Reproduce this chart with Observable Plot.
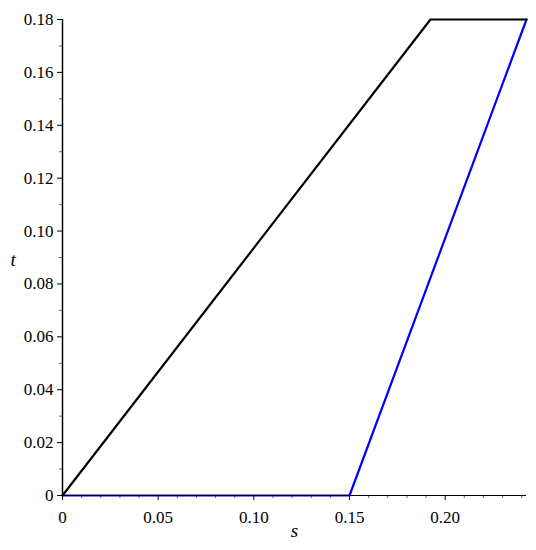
<!DOCTYPE html>
<html>
<head>
<meta charset="utf-8">
<script src="https://cdn.jsdelivr.net/npm/d3@7"></script>
<script src="https://cdn.jsdelivr.net/npm/@observablehq/plot@0.6"></script>
<style>
  html, body { margin: 0; padding: 0; background: #fff; }
  #chart svg, #chart svg g, #chart svg text { font-family: "Liberation Serif", "Times New Roman", serif !important; }
</style>
</head>
<body>
<div id="chart"></div>
<script>
// Series data
const blackS = [0, 0.1923, 0.2425];
const blackT = [0, 0.18, 0.18];
const blueS = [0, 0.15, 0.2425];
const blueT = [0, 0, 0.18];

// Axes
const xDomain = [0, 0.2425];
const yDomain = [0, 0.18];
const xMajorTicks = [0, 0.05, 0.10, 0.15, 0.20];
const xMinorTicks = [0.01, 0.02, 0.03, 0.04, 0.06, 0.07, 0.08, 0.09, 0.11, 0.12, 0.13, 0.14, 0.16, 0.17, 0.18, 0.19, 0.21, 0.22, 0.23, 0.24];
const yMajorTicks = [0, 0.02, 0.04, 0.06, 0.08, 0.10, 0.12, 0.14, 0.16, 0.18];
const yMinorTicks = [0.01, 0.03, 0.05, 0.07, 0.09, 0.11, 0.13, 0.15, 0.17];
const xLabel = ["s"];
const yLabel = ["t"];

const fmt = d => d === 0 ? "0" : d.toFixed(2);

const black = blackS.map((s, i) => ({s, t: blackT[i]}));
const blue = blueS.map((s, i) => ({s, t: blueT[i]}));

const chart = Plot.plot({
  width: 536,
  height: 550,
  marginLeft: 62,
  marginRight: 10,
  marginTop: 19,
  marginBottom: 55,
  style: {fontFamily: "Liberation Serif", fontSize: "17px", color: "black", background: "white"},
  x: {domain: xDomain},
  y: {domain: yDomain},
  marks: [
    Plot.axisX(xMajorTicks, {tickSize: 5, tickPadding: 10, tickFormat: fmt, label: null, stroke: "black", strokeOpacity: 1, fill: "black", fontSize: 17}),
    Plot.axisX(xMinorTicks, {tickSize: 3, text: null, label: null, stroke: "black", strokeOpacity: 0.6}),
    Plot.axisY(yMajorTicks, {tickSize: 5, tickPadding: 4, tickFormat: fmt, label: null, stroke: "black", strokeOpacity: 1, fill: "black", fontSize: 17}),
    Plot.axisY(yMinorTicks, {tickSize: 3, text: null, label: null, stroke: "black", strokeOpacity: 0.6}),
    Plot.line(blue, {x: "s", y: "t", stroke: "#0000ff", strokeWidth: 2.2, strokeLinejoin: "miter"}),
    Plot.ruleY([0], {stroke: "black", strokeWidth: 1.2}),
    Plot.ruleX([0], {stroke: "black", strokeWidth: 1.5}),
    Plot.line(black, {x: "s", y: "t", stroke: "black", strokeWidth: 2.2, strokeLinejoin: "miter"}),
    Plot.text(xLabel, {text: d => d, frameAnchor: "bottom", dy: 41, fontStyle: "italic", fontSize: 19, fill: "black"}),
    Plot.text(yLabel, {text: d => d, frameAnchor: "left", dx: -52, dy: 2, fontStyle: "italic", fontSize: 19, fill: "black"})
  ]
});
document.getElementById("chart").appendChild(chart);
</script>
</body>
</html>
